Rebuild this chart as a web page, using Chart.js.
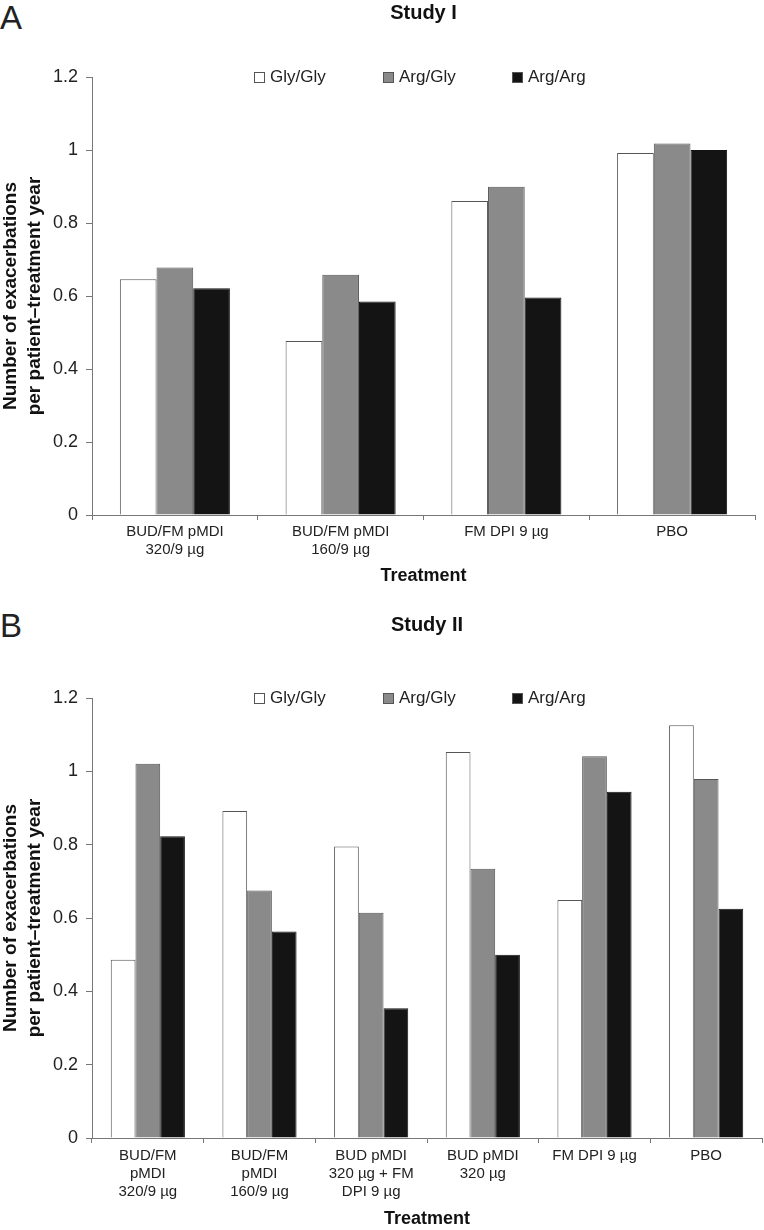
<!DOCTYPE html>
<html>
<head>
<meta charset="utf-8">
<script src="https://cdn.jsdelivr.net/npm/chart.js@4.4.0/dist/chart.umd.min.js"></script>
<style>
  html, body { margin: 0; padding: 0; background: #fff; }
  body { width: 764px; height: 1230px; position: relative; overflow: hidden; font-family: "Liberation Sans", Arial, sans-serif; }
  .panel { position: absolute; left: 0; width: 764px; }
  .panel-label { position: absolute; left: 0; font-size: 33px; line-height: 33px; color: #222; }
  .legend { position: absolute; left: 254px; display: flex; font-size: 17px; line-height: 20px; color: #222; }
  .legend-item { width: 129px; display: flex; align-items: center; }
  .legend-box { width: 9px; height: 9px; border: 1px solid #555; margin-right: 5px; }
</style>
</head>
<body>
<div class="panel-label" style="top:1px">A</div>
<div class="panel" style="top:0;height:600px"><canvas id="studyIChart"></canvas></div>
<div id="legendI" class="legend" style="top:67px"></div>

<div class="panel-label" style="top:609px">B</div>
<div class="panel" style="top:600px;height:630px"><canvas id="studyIIChart"></canvas></div>
<div id="legendII" class="legend" style="top:688px"></div>

<script>
// genotype series
const genotypes = ['Gly/Gly', 'Arg/Gly', 'Arg/Arg'];

// Study I
const studyICategories = [
    ['BUD/FM pMDI', '320/9 µg'],
    ['BUD/FM pMDI', '160/9 µg'],
    'FM DPI 9 µg',
    'PBO'
];
const studyIGlyGly = [0.646, 0.477, 0.860, 0.992];
const studyIArgGly = [0.678, 0.658, 0.899, 1.018];
const studyIArgArg = [0.621, 0.585, 0.596, 1.000];

// Study II
const studyIICategories = [
    ['BUD/FM', 'pMDI', '320/9 µg'],
    ['BUD/FM', 'pMDI', '160/9 µg'],
    ['BUD pMDI', '320 µg + FM', 'DPI 9 µg'],
    ['BUD pMDI', '320 µg'],
    'FM DPI 9 µg',
    'PBO'
];
const studyIIGlyGly = [0.486, 0.892, 0.795, 1.053, 0.649, 1.126];
const studyIIArgGly = [1.021, 0.675, 0.614, 0.734, 1.041, 0.979];
const studyIIArgArg = [0.823, 0.563, 0.354, 0.500, 0.944, 0.625];

// y axis ticks (same for both panels)
const yTickLabels = ['0', '0.2', '0.4', '0.6', '0.8', '1', '1.2'];
const yTickStep = 0.2;
const yMax = 1.2;

const yTitle = ['Number of exacerbations', 'per patient\u2013treatment year'];
const xTitle = 'Treatment';

Chart.defaults.font.family = '"Liberation Sans", Arial, sans-serif';

const fills = ['#ffffff', '#8a8a8a', '#141414'];
const borders = ['#555555', '#555555', '#141414'];

function makeChart(canvasId, legendId, titleText, labels, series, lay) {
    const ctx = document.getElementById(canvasId).getContext('2d');
    const datasets = series.map((data, i) => ({
        label: genotypes[i],
        data: data,
        backgroundColor: fills[i],
        borderColor: borders[i],
        borderWidth: 1,
        categoryPercentage: 0.664,
        barPercentage: 1.0
    }));

    const chart = new Chart(ctx, {
        type: 'bar',
        data: { labels, datasets },
        options: {
            responsive: true,
            maintainAspectRatio: false,
            animation: false,
            layout: { padding: lay.padding },
            plugins: {
                legend: { display: false },
                tooltip: { enabled: false },
                title: {
                    display: true,
                    text: titleText,
                    fullSize: false,
                    color: '#111',
                    font: { size: 20, weight: 'bold' },
                    padding: lay.titlePadding
                }
            },
            scales: {
                x: {
                    grid: { drawOnChartArea: false, drawTicks: true, tickLength: 5, color: '#777', offset: true },
                    border: { color: '#777', width: 1 },
                    ticks: { color: '#222', font: { size: 15 }, padding: lay.xTickPadding, maxRotation: 0, autoSkip: false },
                    title: { display: true, text: xTitle, color: '#111', font: { size: 18, weight: 'bold' }, padding: { top: 0, bottom: 0 } },
                    afterFit: scale => { scale.height = lay.xHeight; }
                },
                y: {
                    min: 0,
                    max: yMax,
                    grid: { drawOnChartArea: false, drawTicks: true, tickLength: 6, color: '#777' },
                    border: { color: '#777', width: 1 },
                    ticks: {
                        stepSize: yTickStep,
                        color: '#222',
                        font: { size: 18 },
                        padding: 8,
                        callback: (value, index) => yTickLabels[index]
                    },
                    title: { display: true, text: yTitle, color: '#111', font: { size: 19, weight: 'bold', lineHeight: 1.3 }, padding: { top: -2, bottom: 0 } },
                    afterFit: scale => { scale.width = 92; }
                }
            }
        }
    });

    // legend built from the datasets
    const legendEl = document.getElementById(legendId);
    chart.data.datasets.forEach(ds => {
        const item = document.createElement('div');
        item.className = 'legend-item';
        const box = document.createElement('span');
        box.className = 'legend-box';
        box.style.backgroundColor = ds.backgroundColor;
        const text = document.createElement('span');
        text.textContent = ds.label;
        item.appendChild(box);
        item.appendChild(text);
        legendEl.appendChild(item);
    });
    return chart;
}

makeChart('studyIChart', 'legendI', 'Study I', studyICategories,
    [studyIGlyGly, studyIArgGly, studyIArgArg],
    {
        padding: { left: 0, right: 9, top: 0, bottom: 13 },
        titlePadding: { top: 1, bottom: 52 },
        xTickPadding: 3,
        xHeight: 72
    });

makeChart('studyIIChart', 'legendII', 'Study II', studyIICategories,
    [studyIIGlyGly, studyIIArgGly, studyIIArgArg],
    {
        padding: { left: 0, right: 2, top: 0, bottom: 0 },
        titlePadding: { top: 13, bottom: 61 },
        xTickPadding: 4,
        xHeight: 92
    });
</script>
</body>
</html>
